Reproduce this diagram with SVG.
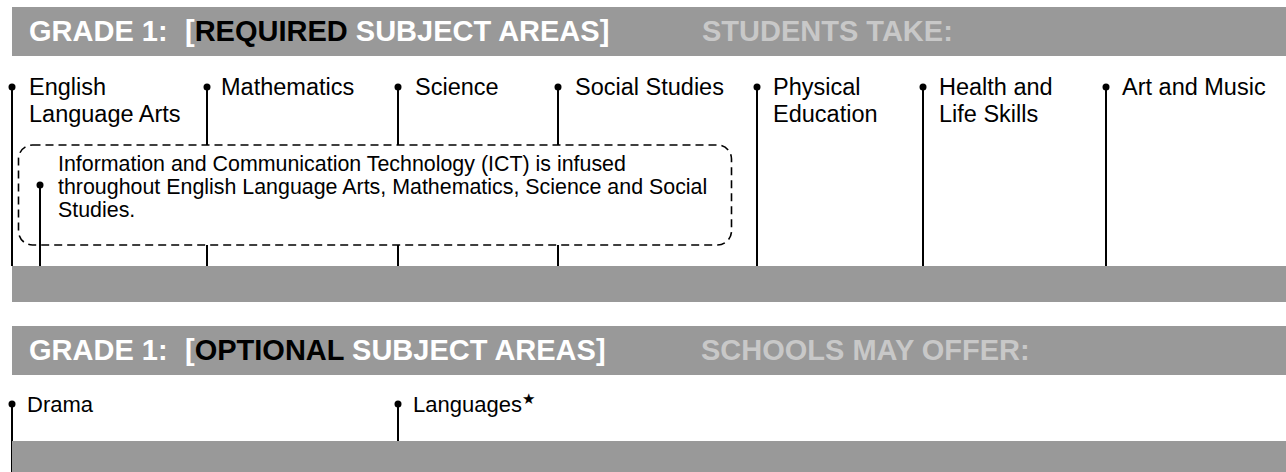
<svg xmlns="http://www.w3.org/2000/svg" width="1286" height="472" viewBox="0 0 1286 472">
<style>
.bar{fill:#999999}
.hdr{font-family:"Liberation Sans",Arial,sans-serif;font-weight:bold;font-size:29px;fill:#ffffff}
.blk{fill:#000000}
.sub{fill:#c8c8c8}
.lbl{font-family:"Liberation Sans",Arial,sans-serif;font-size:23.5px;fill:#000000}
.opt{font-family:"Liberation Sans",Arial,sans-serif;font-size:22px;fill:#000000}
.note{font-family:"Liberation Sans",Arial,sans-serif;font-size:21.4px;fill:#000000}
.conn{stroke:#000000;stroke-width:2;fill:none}
.dot{fill:#000000}
.dash{stroke:#000000;stroke-width:1.6;stroke-dasharray:8 5;fill:none}
.star{font-family:"DejaVu Sans",sans-serif;font-size:15px}
</style>

<g id="header-required">
  <rect class="bar" x="12" y="7" width="1274" height="49"/>
  <text class="hdr" y="41"><tspan x="29">GRADE 1:</tspan><tspan x="185">[</tspan><tspan class="blk">REQUIRED</tspan><tspan> SUBJECT AREAS]</tspan></text>
  <text class="hdr sub" x="702" y="41">STUDENTS TAKE:</text>
</g>

<g id="connectors">
  <line class="conn" x1="12" y1="87" x2="12" y2="266"/>
  <line class="conn" x1="207" y1="87" x2="207" y2="145"/>
  <line class="conn" x1="207" y1="245" x2="207" y2="266"/>
  <line class="conn" x1="398" y1="87" x2="398" y2="145"/>
  <line class="conn" x1="398" y1="245" x2="398" y2="266"/>
  <line class="conn" x1="558" y1="87" x2="558" y2="145"/>
  <line class="conn" x1="558" y1="245" x2="558" y2="266"/>
  <line class="conn" x1="757" y1="87" x2="757" y2="266"/>
  <line class="conn" x1="923" y1="87" x2="923" y2="266"/>
  <line class="conn" x1="1106" y1="87" x2="1106" y2="266"/>
  <line class="conn" x1="40" y1="185" x2="40" y2="266"/>
  <line class="conn" x1="12" y1="404" x2="12" y2="472"/>
  <line class="conn" x1="398" y1="404" x2="398" y2="472"/>
</g>

<g id="node-english">
  <circle class="dot" cx="12" cy="87" r="3.5"/>
  <text class="lbl" x="29" y="95">English</text>
  <text class="lbl" x="29" y="122">Language Arts</text>
</g>
<g id="node-mathematics">
  <circle class="dot" cx="207" cy="87" r="3.5"/>
  <text class="lbl" x="221" y="95">Mathematics</text>
</g>
<g id="node-science">
  <circle class="dot" cx="398" cy="87" r="3.5"/>
  <text class="lbl" x="415" y="95">Science</text>
</g>
<g id="node-social-studies">
  <circle class="dot" cx="558" cy="87" r="3.5"/>
  <text class="lbl" x="575" y="95">Social Studies</text>
</g>
<g id="node-physical-education">
  <circle class="dot" cx="757" cy="87" r="3.5"/>
  <text class="lbl" x="773" y="95">Physical</text>
  <text class="lbl" x="773" y="122">Education</text>
</g>
<g id="node-health">
  <circle class="dot" cx="923" cy="87" r="3.5"/>
  <text class="lbl" x="939" y="95">Health and</text>
  <text class="lbl" x="939" y="122">Life Skills</text>
</g>
<g id="node-art-music">
  <circle class="dot" cx="1106" cy="87" r="3.5"/>
  <text class="lbl" x="1122" y="95">Art and Music</text>
</g>

<g id="node-ict">
  <rect class="dash" x="18.5" y="145" width="713" height="100" rx="14" ry="14"/>
  <circle class="dot" cx="40" cy="185" r="3.5"/>
  <text class="note" x="58" y="171">Information and Communication Technology (ICT) is infused</text>
  <text class="note" x="58" y="194">throughout English Language Arts, Mathematics, Science and Social</text>
  <text class="note" x="58" y="217">Studies.</text>
</g>

<g id="bar-required-bottom">
  <rect class="bar" x="12" y="266" width="1274" height="36"/>
</g>

<g id="header-optional">
  <rect class="bar" x="12" y="326" width="1274" height="49"/>
  <text class="hdr" y="360"><tspan x="29">GRADE 1:</tspan><tspan x="185">[</tspan><tspan class="blk">OPTIONAL</tspan><tspan> SUBJECT AREAS]</tspan></text>
  <text class="hdr sub" x="701" y="360">SCHOOLS MAY OFFER:</text>
</g>

<g id="bar-optional-bottom">
  <rect class="bar" x="12" y="441" width="1274" height="31"/>
</g>

<g id="node-drama">
  <circle class="dot" cx="12" cy="404" r="3.5"/>
  <text class="opt" x="27" y="412">Drama</text>
</g>
<g id="node-languages">
  <circle class="dot" cx="398" cy="404" r="3.5"/>
  <text class="opt" x="413" y="412">Languages<tspan class="star" dy="-8">★</tspan></text>
</g>
</svg>
